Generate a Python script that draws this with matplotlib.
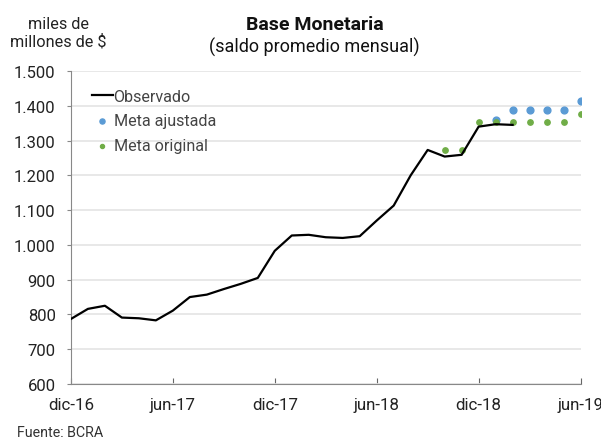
import matplotlib
matplotlib.use("Agg")
import matplotlib.pyplot as plt
from matplotlib.ticker import FuncFormatter

plt.rcParams["font.family"] = ["Roboto", "DejaVu Sans"]

# Month index 0 = dic-16
observado_mes = list(range(0, 27))
observado = [787, 816, 825, 791, 789, 783, 811, 850, 857, 873, 888, 905,
             983, 1027, 1029, 1022, 1020, 1025, 1070, 1113, 1200, 1273,
             1254, 1259, 1340, 1347, 1345]

meta_ajustada_mes = [25, 26, 27, 28, 29, 30]
meta_ajustada = [1360, 1387, 1388, 1388, 1388, 1413]

meta_original_mes = [22, 23, 24, 25, 26, 27, 28, 29, 30]
meta_original = [1272, 1272, 1352, 1352, 1352, 1352, 1352, 1352, 1375]

tick_mes = [0, 6, 12, 18, 24, 30]
tick_labels = ["dic-16", "jun-17", "dic-17", "jun-18", "dic-18", "jun-19"]

fig = plt.figure(figsize=(6.01, 4.39), dpi=100)
ax = fig.add_axes([0.118, 0.123, 0.848, 0.713])

ax.plot(observado_mes, observado, color="black", lw=1.6, label="Observado", zorder=3)
ax.scatter(meta_ajustada_mes, meta_ajustada, s=24, color="#5B9BD5",
           label="Meta ajustada", zorder=2)
ax.scatter(meta_original_mes, meta_original, s=15, color="#70AD47",
           label="Meta original", zorder=2)

ax.set_xlim(0, 30)
ax.set_ylim(600, 1500)
ax.set_yticks(range(600, 1501, 100))
ax.yaxis.set_major_formatter(FuncFormatter(lambda v, p: f"{int(v):,}".replace(",", ".")))
ax.set_xticks(tick_mes)
ax.set_xticklabels(tick_labels)
ax.grid(axis="y", color="#e4e4e4", lw=1.2)
ax.set_axisbelow(True)

for s in ["top", "right"]:
    ax.spines[s].set_visible(False)
for s in ["left", "bottom"]:
    ax.spines[s].set_color("#888888")
ax.tick_params(axis="x", direction="in", length=4, color="#666666", labelsize=12.2, pad=9)
ax.tick_params(axis="y", direction="out", length=3, color="#888888", labelsize=12, pad=8)
ax.tick_params(labelcolor="#222222")

leg = ax.legend(loc="upper left", bbox_to_anchor=(0.012, 0.99), frameon=False,
                fontsize=11.6, handlelength=1.35, handletextpad=0.02,
                labelspacing=0.6, markerscale=0.75)
for t in leg.get_texts():
    t.set_color("#444444")

fig.text(0.523, 0.943, "Base Monetaria", ha="center", va="center",
         fontsize=14, fontweight="bold", color="#111111")
fig.text(0.523, 0.893, "(saldo promedio mensual)", ha="center", va="center",
         fontsize=13, color="#111111")
fig.text(0.097, 0.925, "miles de\nmillones de $", ha="center", va="center",
         fontsize=11.7, color="#222222", linespacing=1.15)
fig.text(0.028, 0.014, "Fuente: BCRA", ha="left", va="center",
         fontsize=10.3, color="#333333")

fig.savefig("out.png", dpi=100)
